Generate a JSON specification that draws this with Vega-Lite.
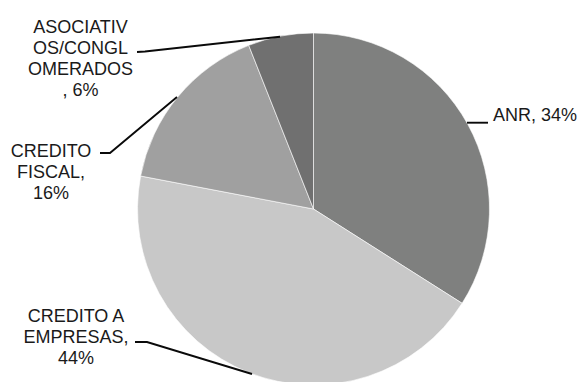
{
  "$schema": "https://vega.github.io/schema/vega-lite/v6.json",
  "width": 533,
  "height": 382,
  "autosize": "none",
  "padding": {"left": 47, "top": 18, "right": 0, "bottom": 0},
  "background": "white",
  "config": {"view": {"stroke": null}},
  "datasets": {
    "slices": [
      {"cat": "ANR", "value": 34, "ord": 1},
      {"cat": "CREDITO A EMPRESAS", "value": 44, "ord": 2},
      {"cat": "CREDITO FISCAL", "value": 16, "ord": 3},
      {"cat": "ASOCIATIVOS/CONGLOMERADOS", "value": 6, "ord": 4}
    ],
    "leaders": [
      {"g": "ANR", "s": 1, "u": 0.8722, "v": 0.4903},
      {"g": "ANR", "s": 2, "u": 0.9915, "v": 0.4903},
      {"g": "ASOC", "s": 1, "u": -1.0028, "v": 0.8920},
      {"g": "ASOC", "s": 2, "u": -0.9574, "v": 0.8949},
      {"g": "ASOC", "s": 3, "u": -0.1903, "v": 0.9790},
      {"g": "FISCAL", "s": 1, "u": -1.2131, "v": 0.3182},
      {"g": "FISCAL", "s": 2, "u": -1.1563, "v": 0.3182},
      {"g": "FISCAL", "s": 3, "u": -0.7756, "v": 0.6364},
      {"g": "EMP", "s": 1, "u": -1.0142, "v": -0.7557},
      {"g": "EMP", "s": 2, "u": -0.9460, "v": -0.7557},
      {"g": "EMP", "s": 3, "u": -0.3494, "v": -0.9375}
    ],
    "labels": [
      {"t": "ASOCIATIV\nOS/CONGL\nOMERADOS\n, 6%", "u": -1.3239, "v": 1.0284},
      {"t": "CREDITO\nFISCAL,\n16%", "u": -1.4915, "v": 0.3239},
      {"t": "CREDITO A\nEMPRESAS,\n44%", "u": -1.3494, "v": -0.6136}
    ],
    "labelsRight": [
      {"t": "ANR, 34%", "u": 1.0199, "v": 0.5256}
    ]
  },
  "layer": [
    {
      "data": {"name": "slices"},
      "mark": {"type": "arc", "outerRadius": 176, "stroke": "#ffffff", "strokeWidth": 0.6},
      "encoding": {
        "theta": {"field": "value", "type": "quantitative", "stack": true},
        "order": {"field": "ord", "type": "quantitative"},
        "color": {
          "field": "cat",
          "type": "nominal",
          "scale": {
            "domain": ["ANR", "CREDITO A EMPRESAS", "CREDITO FISCAL", "ASOCIATIVOS/CONGLOMERADOS"],
            "range": ["#7f807f", "#c8c8c8", "#a0a0a0", "#707070"]
          },
          "legend": null
        }
      }
    },
    {
      "data": {"name": "leaders"},
      "mark": {"type": "line", "color": "#0a0a0a", "strokeWidth": 1.9},
      "encoding": {
        "x": {"field": "u", "type": "quantitative", "scale": {"domain": [-1.5142, 1.5142], "nice": false, "zero": false}, "axis": null},
        "y": {"field": "v", "type": "quantitative", "scale": {"domain": [-1.08523, 1.08523], "nice": false, "zero": false}, "axis": null},
        "detail": {"field": "g"},
        "order": {"field": "s", "type": "quantitative"}
      }
    },
    {
      "data": {"name": "labels"},
      "mark": {"type": "text", "font": "Liberation Sans", "fontSize": 18, "color": "#1a1a1a", "align": "center", "baseline": "middle", "lineBreak": "\n", "lineHeight": 21},
      "encoding": {
        "x": {"field": "u", "type": "quantitative", "scale": {"domain": [-1.5142, 1.5142], "nice": false, "zero": false}, "axis": null},
        "y": {"field": "v", "type": "quantitative", "scale": {"domain": [-1.08523, 1.08523], "nice": false, "zero": false}, "axis": null},
        "text": {"field": "t"}
      }
    },
    {
      "data": {"name": "labelsRight"},
      "mark": {"type": "text", "font": "Liberation Sans", "fontSize": 18, "color": "#1a1a1a", "align": "left", "baseline": "middle"},
      "encoding": {
        "x": {"field": "u", "type": "quantitative", "scale": {"domain": [-1.5142, 1.5142], "nice": false, "zero": false}, "axis": null},
        "y": {"field": "v", "type": "quantitative", "scale": {"domain": [-1.08523, 1.08523], "nice": false, "zero": false}, "axis": null},
        "text": {"field": "t"}
      }
    }
  ]
}
